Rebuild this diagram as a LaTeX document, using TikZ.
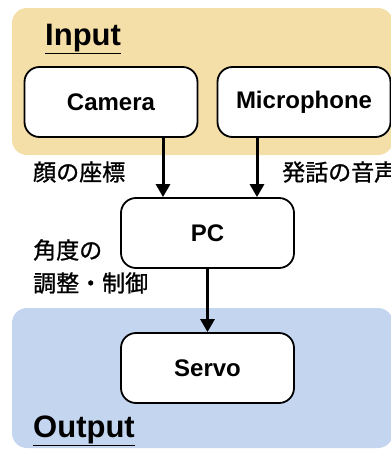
\documentclass[tikz,border=0pt]{standalone}
\usepackage{fontspec}
\setmainfont{Liberation Sans}
\newfontfamily\cjk[FakeBold=1]{Noto Sans CJK JP}
\usetikzlibrary{arrows.meta}
\definecolor{input area}{HTML}{F5DFA8}
\definecolor{output area}{HTML}{C3D5EF}
\tikzset{area/.style={rounded corners=15pt},
    box/.style={draw, line width=1.8pt, fill=white, rounded corners=15pt,
        minimum width=173pt, minimum height=70pt, font=\fontsize{24}{28}\selectfont\bfseries},
    heading/.style={anchor=base west, inner sep=0pt, font=\fontsize{31}{36}\selectfont\bfseries},
    jlabel/.style={anchor=west, inner sep=0pt, font=\fontsize{23}{26}\selectfont\cjk},
    flow/.style={line width=3pt, -{Triangle[width=14pt,length=13pt]}}}

\begin{document}
\begin{tikzpicture}[x=1pt, y=-1pt]
    \useasboundingbox (0,0) rectangle (391,450);
    \fill[area, input area] (12,8) rectangle (393,155);
    \fill[area, output area] (12,308) rectangle (393,448);
    \node[heading] (input) at (45,45) {\underline{Input}};
    \node[heading] (output) at (33,437) {\underline{Output}};
    \node[box] (camera) at (111,102) {Camera};
    \node[box] (mic) at (304,102) {Microphone};
    \node[box] (pc) at (207.5,233) {PC};
    \node[box] (servo) at (207.5,368) {Servo};
    \node[jlabel] (face) at (33,172) {顔の座標};
    \node[jlabel] (voice) at (282,172) {発話の音声};
    \node[jlabel] (angle) at (33,250) {角度の};
    \node[jlabel] (ctrl) at (33,283) {調整・制御};
    \draw[flow] ([xshift=52pt]camera.south) -- ([xshift=52pt]camera.south |- pc.north);
    \draw[flow] ([xshift=-47pt]mic.south) -- ([xshift=-47pt]mic.south |- pc.north);
    \draw[flow] (pc) -- (servo);
    %\node[anchor=south] at (current bounding box.north) {};
\end{tikzpicture}
\end{document}
